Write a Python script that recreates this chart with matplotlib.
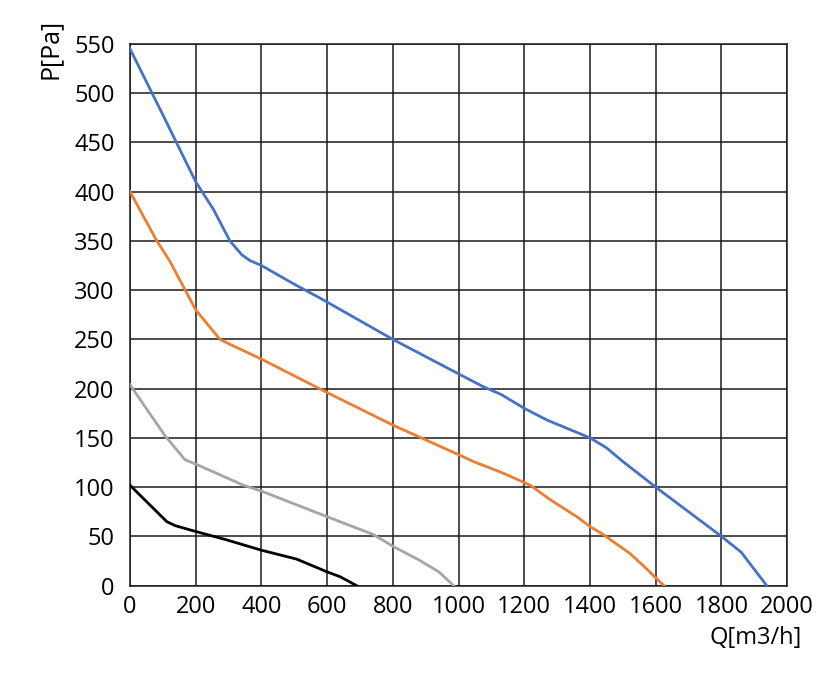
import numpy as np
import matplotlib
matplotlib.use("Agg")
import matplotlib.pyplot as plt

plt.rcParams['font.family'] = ['Open Sans', 'DejaVu Sans']

# 读图估计的曲线点 (Q [m3/h], P [Pa])
blue_q = [0, 100, 200, 254, 304, 340, 365, 400, 500, 578, 800, 1000, 1075, 1130, 1200, 1270, 1400, 1450, 1500, 1600, 1700, 1800, 1860, 1938]
blue_p = [545, 478, 410, 382, 350, 336, 330, 325, 306, 292, 250, 215, 202, 194, 180, 168, 150, 140, 126, 100, 75, 50, 34, 0]

orange_q = [0, 80, 122, 200, 274, 304, 400, 600, 800, 900, 1000, 1045, 1130, 1218, 1280, 1360, 1400, 1440, 1520, 1560, 1600, 1625]
orange_p = [400, 351, 329, 280, 250, 245, 230, 196, 163, 148, 133, 126, 115, 102, 87, 70, 60, 52, 33, 21, 8, 0]

gray_q = [0, 107, 167, 203, 345, 400, 600, 740, 800, 880, 940, 985]
gray_p = [204, 152, 128, 123, 102, 96, 70, 52, 40, 26, 14, 0]

black_q = [0, 112, 137, 200, 289, 400, 507, 600, 640, 690]
black_p = [102, 65, 61, 55, 47, 36, 27, 14, 9, 0]

fig = plt.figure(figsize=(8.2, 6.85), dpi=100)
ax = fig.add_axes([0.1585, 0.145, 0.8015, 0.791])

ax.plot(blue_q, blue_p, color="#4472C4", lw=2.0, zorder=3)
ax.plot(orange_q, orange_p, color="#ED7D31", lw=2.0, zorder=3)
ax.plot(gray_q, gray_p, color="#A5A5A5", lw=2.0, zorder=3)
ax.plot(black_q, black_p, color="black", lw=2.0, zorder=3)

ax.set_xlim(0, 2000)
ax.set_ylim(0, 550)
ax.set_xticks(np.arange(0, 2001, 200))
ax.set_yticks(np.arange(0, 551, 50))
ax.grid(True, color="#1a1a1a", lw=1.1)
ax.set_axisbelow(True)
for s in ax.spines.values():
    s.set_color("#1a1a1a")
    s.set_linewidth(1.1)
ax.tick_params(length=0, labelsize=17, pad=7)
ax.tick_params(axis="y", pad=11)

fig.text(50 / 820, 1 - 49 / 685, "P[Pa]", rotation=90, fontsize=18, ha="center", va="center")
fig.text(802 / 820, 1 - 638 / 685, "Q[m3/h]", fontsize=17, ha="right", va="center")

fig.savefig("out.png", dpi=100)
